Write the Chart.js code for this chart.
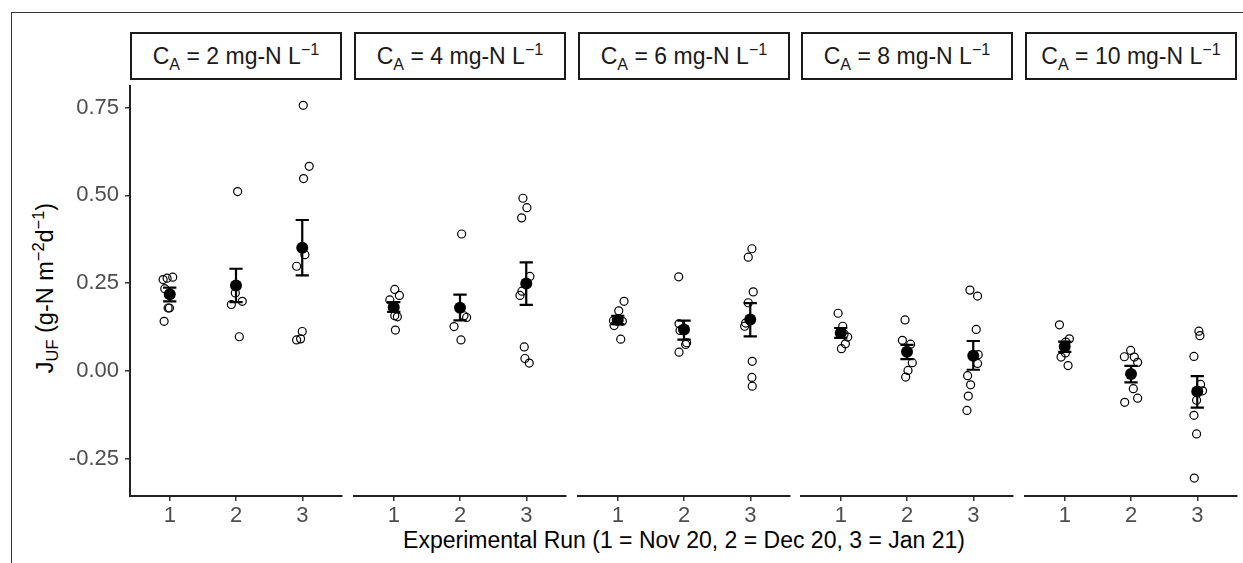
<!DOCTYPE html>
<html>
<head>
<meta charset="utf-8">
<script src="https://cdn.jsdelivr.net/npm/chart.js@4"></script>
<style>
  body { margin: 0; background: #fff; font-family: "Liberation Sans", Arial, sans-serif; }
  #fig { position: relative; width: 1243px; height: 563px; overflow: hidden; background: #fff; }
  .frame { position: absolute; left: 11px; top: 12px; right: -5px; bottom: -5px; border-left: 1px solid #333; border-top: 1px solid #333; }
  .strip { position: absolute; top: 32px; width: 212px; height: 48px; box-sizing: border-box; border: 2px solid #1a1a1a;
           line-height: 44px; text-align: center; font-size: 23px; color: #1a1a1a; white-space: nowrap; }
  sub, sup { font-size: 70%; line-height: 0; }
  canvas { position: absolute; }
  #ytitle { position: absolute; left: 45px; top: 288px; transform: translate(-50%, -50%) rotate(-90deg); white-space: nowrap; font-size: 23.5px; color: #000; }
  #xtitle { position: absolute; left: 334px; width: 700px; top: 527px; text-align: center; font-size: 23px; color: #000; white-space: nowrap; }
</style>
</head>
<body>
<div id="fig">
  <div class="frame"></div>
  <div id="ytitle">J<sub>UF</sub> (g-N m<sup>−2</sup>d<sup>−1</sup>)</div>
  <div id="xtitle">Experimental Run (1 = Nov 20, 2 = Dec 20, 3 = Jan 21)</div>
</div>
<script>
// ammonia concentration of each facet, mg-N/L
const concentrations = [2, 4, 6, 8, 10]
const runs = [1, 2, 3]
const yTicks = [-0.25, 0, 0.25, 0.5, 0.75]

// individual flux values per run, g-N m-2 d-1, and horizontal jitter (run units)
const fluxC2 = [
    [0.260, 0.264, 0.267, 0.234, 0.179, 0.179, 0.141],
    [0.511, 0.222, 0.189, 0.198, 0.097],
    [0.757, 0.583, 0.548, 0.331, 0.298, 0.112, 0.088, 0.091]
]
const jitterC2 = [
    [-0.10, -0.04, 0.045, -0.075, -0.005, -0.025, -0.085],
    [0.025, -0.01, -0.07, 0.095, 0.05],
    [0.015, 0.105, 0.02, 0.04, -0.085, 0, -0.085, -0.025]
]
const fluxC4 = [
    [0.232, 0.215, 0.202, 0.154, 0.157, 0.116],
    [0.390, 0.152, 0.157, 0.126, 0.088],
    [0.492, 0.465, 0.436, 0.269, 0.227, 0.215, 0.068, 0.035, 0.022]
]
const jitterC4 = [
    [0.015, 0.085, -0.06, 0.055, 0.015, 0.025],
    [0.025, 0.10, 0.06, -0.09, 0.015],
    [-0.05, 0.01, -0.07, 0.055, -0.065, -0.095, -0.03, -0.02, 0.045]
]
const fluxC6 = [
    [0.198, 0.171, 0.143, 0.129, 0.141, 0.090],
    [0.268, 0.134, 0.115, 0.080, 0.075, 0.053],
    [0.348, 0.324, 0.225, 0.194, 0.127, 0.136, 0.027, -0.019, -0.044]
]
const jitterC6 = [
    [0.095, 0.015, -0.065, -0.055, 0.07, 0.045],
    [-0.08, -0.075, -0.06, 0.04, 0.025, -0.075],
    [0.025, -0.03, 0.045, -0.03, -0.085, -0.07, 0.03, 0.025, 0.03]
]
const fluxC8 = [
    [0.164, 0.127, 0.096, 0.077, 0.063, 0.105],
    [0.145, 0.087, 0.076, 0.023, 0.001, -0.018],
    [0.230, 0.213, 0.118, 0.046, 0.021, -0.014, -0.040, -0.072, -0.113]
]
const jitterC8 = [
    [-0.04, 0.03, 0.105, 0.07, 0.01, 0.05],
    [-0.03, -0.07, 0.055, 0.08, 0.015, -0.02],
    [-0.05, 0.065, 0.045, 0.075, 0.065, -0.085, -0.04, -0.075, -0.095]
]
const fluxC10 = [
    [0.131, 0.091, 0.082, 0.051, 0.039, 0.015],
    [0.058, 0.040, 0.039, 0.024, -0.051, -0.078, -0.090],
    [0.113, 0.100, 0.041, -0.039, -0.057, -0.084, -0.127, -0.180, -0.306]
]
const jitterC10 = [
    [-0.08, 0.07, 0.015, 0.01, -0.055, 0.05],
    [-0.005, -0.10, 0.05, 0.10, 0.035, 0.10, -0.095],
    [0.025, 0.04, -0.05, 0.05, 0.08, -0.01, -0.05, -0.01, -0.045]
]

// mean and standard error bounds, one row per facet
const meanFlux = [[0.218, 0.243, 0.351], [0.181, 0.180, 0.249], [0.145, 0.118, 0.146], [0.108, 0.054, 0.043], [0.069, -0.009, -0.059]]
const seLow = [[0.198, 0.196, 0.272], [0.168, 0.144, 0.188], [0.133, 0.089, 0.098], [0.094, 0.033, 0.003], [0.054, -0.033, -0.105]]
const seHigh = [[0.237, 0.291, 0.430], [0.196, 0.217, 0.309], [0.157, 0.143, 0.193], [0.122, 0.074, 0.085], [0.083, 0.014, -0.015]]

const fluxes = [fluxC2, fluxC4, fluxC6, fluxC8, fluxC10]
const jitters = [jitterC2, jitterC4, jitterC6, jitterC8, jitterC10]

const fig = document.getElementById('fig')
const font = '"Liberation Sans", Arial, sans-serif'
const panelLeft = [130, 354, 578, 801, 1025]
const panelW = 212, yAxisW = 70, pad = 8, xAxisH = 32, plotTop = 80, plotH = 416

function errorBars(i) {
    return {
        id: 'errorBars',
        afterDatasetsDraw(chart) {
            const { ctx, scales: { x, y } } = chart
            ctx.save()
            ctx.strokeStyle = '#000'
            ctx.lineWidth = 2.2
            runs.forEach((r, k) => {
                const px = x.getPixelForValue(r)
                const half = x.getPixelForValue(r + 0.1) - px
                const lo = y.getPixelForValue(seLow[i][k])
                const hi = y.getPixelForValue(seHigh[i][k])
                ctx.beginPath()
                ctx.moveTo(px, lo); ctx.lineTo(px, hi)
                ctx.moveTo(px - half, lo); ctx.lineTo(px + half, lo)
                ctx.moveTo(px - half, hi); ctx.lineTo(px + half, hi)
                ctx.stroke()
            })
            ctx.restore()
        }
    }
}

// keep the plot area fixed: no label overhang padding
function noPad(s) {
    s.paddingTop = 0; s.paddingBottom = 0; s.paddingLeft = 0; s.paddingRight = 0
}

concentrations.forEach((c, i) => {
    const strip = document.createElement('div')
    strip.className = 'strip'
    strip.style.left = panelLeft[i] + 'px'
    strip.innerHTML = 'C<sub>A</sub> = ' + c + ' mg-N L<sup>−1</sup>'
    fig.appendChild(strip)

    const first = i === 0
    const padL = first ? yAxisW : pad
    const cv = document.createElement('canvas')
    cv.width = panelW + padL + pad
    cv.height = plotH + xAxisH
    cv.style.left = (panelLeft[i] - padL) + 'px'
    cv.style.top = plotTop + 'px'
    fig.appendChild(cv)

    const points = []
    fluxes[i].forEach((vals, k) => vals.forEach((v, j) => points.push({ x: runs[k] + jitters[i][k][j], y: v })))

    new Chart(cv, {
        type: 'scatter',
        data: {
            datasets: [{
                data: runs.map((r, k) => ({ x: r, y: meanFlux[i][k] })),
                pointRadius: 6,
                pointBackgroundColor: '#000',
                pointBorderColor: '#000',
                pointBorderWidth: 0
            }, {
                data: points,
                pointRadius: 4,
                pointBackgroundColor: 'rgba(0,0,0,0)',
                pointBorderColor: '#000',
                pointBorderWidth: 1.2
            }]
        },
        options: {
            responsive: false,
            animation: false,
            events: [],
            layout: { padding: { left: first ? 0 : pad, right: pad, top: 0, bottom: 0 } },
            plugins: { legend: { display: false }, tooltip: { enabled: false } },
            scales: {
                x: {
                    type: 'linear', min: 0.4, max: 3.6,
                    afterBuildTicks: s => { s.ticks = runs.map(v => ({ value: v })) },
                    afterFit: s => { s.height = xAxisH; noPad(s) },
                    grid: { display: true, drawOnChartArea: false, tickLength: 5, color: '#333', lineWidth: 1.5 },
                    border: { display: true, color: '#222', width: 2 },
                    ticks: { font: { size: 22, family: font }, color: '#4d4d4d', padding: 2, maxRotation: 0 }
                },
                y: {
                    display: first,
                    min: -0.357, max: 0.812,
                    afterBuildTicks: s => { s.ticks = yTicks.map(v => ({ value: v })) },
                    afterFit: s => { s.width = first ? yAxisW : 0; noPad(s) },
                    grid: { display: true, drawOnChartArea: false, tickLength: 5, color: '#333', lineWidth: 1.5 },
                    border: { display: true, color: '#222', width: 2 },
                    ticks: { font: { size: 22, family: font }, color: '#4d4d4d', padding: 6, callback: v => v.toFixed(2) }
                }
            }
        },
        plugins: [errorBars(i)]
    })
})
</script>
</body>
</html>
